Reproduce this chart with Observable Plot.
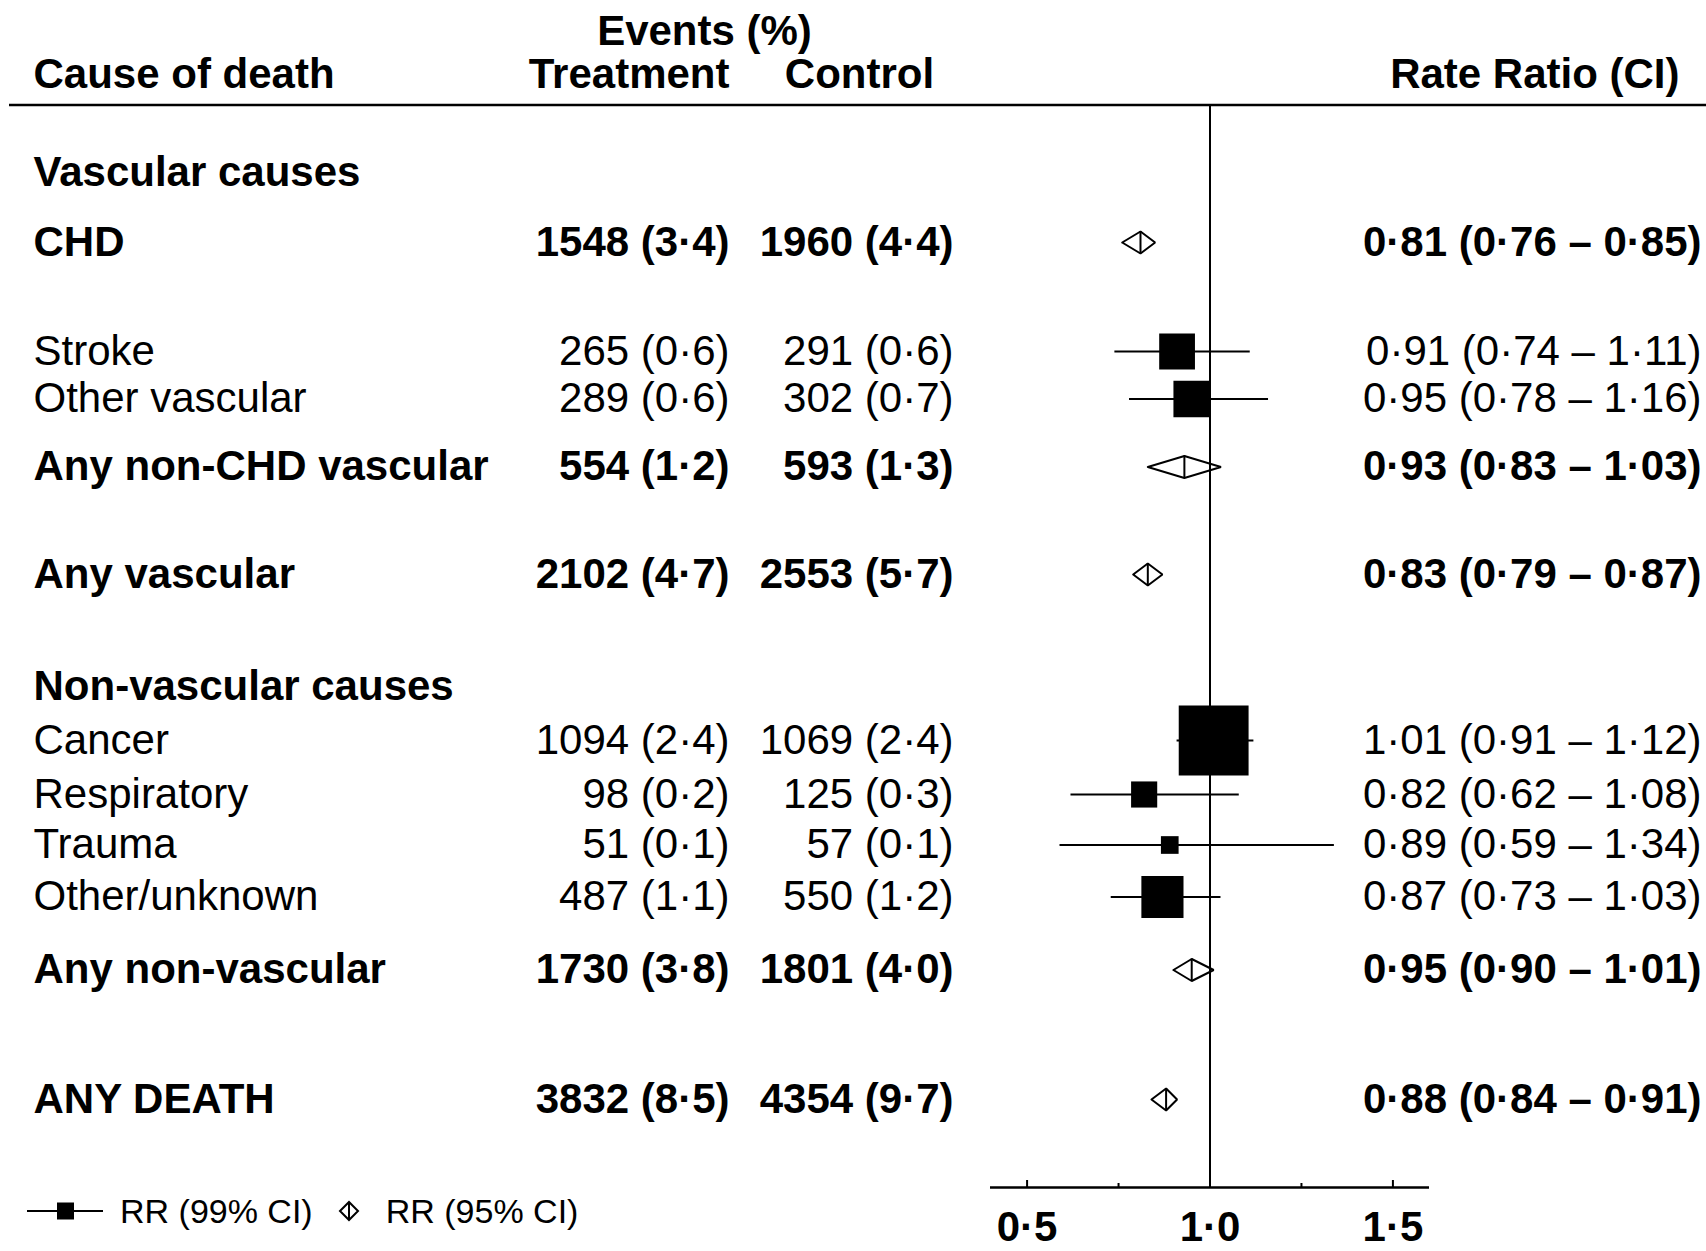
<!DOCTYPE html>
<html><head><meta charset="utf-8">
<script src="https://cdn.jsdelivr.net/npm/d3@7"></script>
<script src="https://cdn.jsdelivr.net/npm/@observablehq/plot@0.6"></script>
<style>
html,body{margin:0;padding:0;background:#fff;}
#wrap{position:relative;width:1706px;height:1251px;font-family:"Liberation Sans",Arial,Helvetica,sans-serif;color:#000;}
#legend{position:absolute;left:27px;top:1190px;height:42px;display:flex;align-items:center;font-size:34px;white-space:nowrap;}
#legend svg{display:block;}
</style></head><body><div id="wrap"></div>
<script>
// ---- data ----
const causes = ["Vascular causes","CHD","Stroke","Other vascular","Any non-CHD vascular","Any vascular",
  "Non-vascular causes","Cancer","Respiratory","Trauma","Other/unknown","Any non-vascular","ANY DEATH"];
const rowKind = ["heading","total","item","item","total","total","heading","item","item","item","item","total","total"];
const treatEvents = [null,1548,265,289,554,2102,null,1094,98,51,487,1730,3832];
const treatPct    = [null,3.4,0.6,0.6,1.2,4.7,null,2.4,0.2,0.1,1.1,3.8,8.5];
const ctrlEvents  = [null,1960,291,302,593,2553,null,1069,125,57,550,1801,4354];
const ctrlPct     = [null,4.4,0.6,0.7,1.3,5.7,null,2.4,0.3,0.1,1.2,4.0,9.7];
const rateRatio   = [null,0.81,0.91,0.95,0.93,0.83,null,1.01,0.82,0.89,0.87,0.95,0.88];
const ciLow       = [null,0.76,0.74,0.78,0.83,0.79,null,0.91,0.62,0.59,0.73,0.90,0.84];
const ciHigh      = [null,0.85,1.11,1.16,1.03,0.87,null,1.12,1.08,1.34,1.03,1.01,0.91];
const axisTicks = [0.5, 1.0, 1.5];
const minorTicks = [0.75, 1.25];

// ---- table layout: line number of each row (row units) ----
const rowLine = [0, 1.40, 3.58, 4.53, 5.89, 8.04, 10.28, 11.36, 12.44, 13.45, 14.49, 15.95, 18.54];
const yTop = -1.35, yBottom = 20.3;

const fmt = (v, d) => v.toFixed(d).replace(".", "\u00B7");
const rows = causes.map((c, i) => ({
  label: c, kind: rowKind[i], pos: rowLine[i],
  te: treatEvents[i], tp: treatPct[i], ce: ctrlEvents[i], cp: ctrlPct[i],
  rr: rateRatio[i], lo: ciLow[i], hi: ciHigh[i],
  bold: rowKind[i] !== "item"
}));
const valued = rows.filter(d => d.rr != null);
const items = valued.filter(d => d.kind === "item");
const totals = valued.filter(d => d.kind === "total");
const half = 0.22; // diamond half-height, row units
const diamondPts = totals.flatMap((d, k) => [
  {id: k, x: d.lo, y: d.pos}, {id: k, x: d.rr, y: d.pos - half},
  {id: k, x: d.hi, y: d.pos}, {id: k, x: d.rr, y: d.pos + half},
  {id: k, x: d.lo, y: d.pos}
]);
// square side inversely proportional to the standard error of log RR
const sideOf = d => 3.7 / (Math.log(d.hi / d.lo) / 3.92);

const FS = 42;
const txt = (data, o, bold) => Plot.text(data, {fontSize: FS, fontWeight: bold ? "bold" : "normal", lineAnchor: "middle", ...o});
const treatText = d => `${d.te} (${fmt(d.tp, 1)})`;
const ctrlText = d => `${d.ce} (${fmt(d.cp, 1)})`;
const rrText = d => `${fmt(d.rr, 2)} (${fmt(d.lo, 2)} \u2013 ${fmt(d.hi, 2)})`;

const headers = [
  {text: "Cause of death", dx: 24, dy: -30, anchor: "start", fa: "top-left"},
  {text: "Events (%)", dx: 695, dy: -73, anchor: "middle", fa: "top-left"},
  {text: "Treatment", dx: 720, dy: -30, anchor: "end", fa: "top-left"},
  {text: "Control", dx: 850, dy: -30, anchor: "middle", fa: "top-left"},
  {text: "Rate Ratio (CI)", dx: -27, dy: -30, anchor: "end", fa: "top-right"}
];

const chart = Plot.plot({
  width: 1706, height: 1251,
  marginLeft: 9, marginRight: 0, marginTop: 104.5, marginBottom: 64,
  x: {domain: [0.4, 1.6], range: [990, 1429], axis: null},
  y: {domain: [yTop, yBottom], reverse: true, axis: null},
  r: {type: "identity"},
  style: {fontFamily: '"Liberation Sans", Arial, Helvetica, sans-serif', background: "#fff", color: "#000", overflow: "visible"},
  marks: [
    Plot.ruleY([yTop], {strokeWidth: 2.5}),
    Plot.ruleX([1], {strokeWidth: 2}),
    Plot.ruleY([yBottom], {x1: 0.4, x2: 1.6, strokeWidth: 2.5}),
    Plot.ruleX(axisTicks, {x: d => d, y1: yBottom, y2: yBottom, insetTop: -7, strokeWidth: 2}),
    Plot.ruleX(minorTicks, {x: d => d, y1: yBottom, y2: yBottom, insetTop: -4, strokeWidth: 2}),
    Plot.text(axisTicks, {x: d => d, frameAnchor: "bottom", lineAnchor: "middle", dy: 40, text: d => fmt(d, 1), fontSize: FS, fontWeight: "bold"}),
    // confidence lines and squares
    Plot.ruleY(items, {y: "pos", x1: "lo", x2: "hi", strokeWidth: 2}),
    Plot.dot(items, {x: "rr", y: "pos", symbol: "square", fill: "#000", stroke: "none", r: d => sideOf(d) / Math.sqrt(Math.PI)}),
    // diamonds
    Plot.line(diamondPts, {x: "x", y: "y", z: "id", stroke: "#000", strokeWidth: 2, strokeLinejoin: "miter", fill: "none"}),
    Plot.ruleX(totals, {x: "rr", y1: d => d.pos - half, y2: d => d.pos + half, strokeWidth: 2}),
    // table text
    ...[true, false].flatMap(b => [
      txt(rows.filter(d => d.bold === b), {y: "pos", text: "label", frameAnchor: "left", dx: 24, textAnchor: "start"}, b),
      txt(valued.filter(d => d.bold === b), {y: "pos", text: treatText, frameAnchor: "left", dx: 720, textAnchor: "end"}, b),
      txt(valued.filter(d => d.bold === b), {y: "pos", text: ctrlText, frameAnchor: "left", dx: 944, textAnchor: "end"}, b),
      txt(valued.filter(d => d.bold === b), {y: "pos", text: rrText, frameAnchor: "right", dx: -5, textAnchor: "end"}, b)
    ]),
    ...headers.map(h => Plot.text([h], {text: "text", frameAnchor: h.fa, lineAnchor: "middle", dx: h.dx, dy: h.dy, textAnchor: h.anchor, fontSize: FS, fontWeight: "bold"}))
  ]
});
const wrap = document.getElementById("wrap");
wrap.appendChild(chart);

// legend
const legend = document.createElement("div");
legend.id = "legend";
legend.innerHTML = `
<svg width="76" height="24" viewBox="0 0 76 24"><line x1="0" y1="12" x2="76" y2="12" stroke="#000" stroke-width="2"/><rect x="30" y="3.5" width="17" height="17" fill="#000"/></svg>
<span style="margin-left:17px">RR (99% CI)</span>
<svg width="22" height="24" viewBox="0 0 22 24" style="margin-left:25px"><path d="M2,12 L11,3 L20,12 L11,21 Z M11,3 L11,21" fill="none" stroke="#000" stroke-width="2"/></svg>
<span style="margin-left:26px">RR (95% CI)</span>`;
wrap.appendChild(legend);
</script>
</body></html>
